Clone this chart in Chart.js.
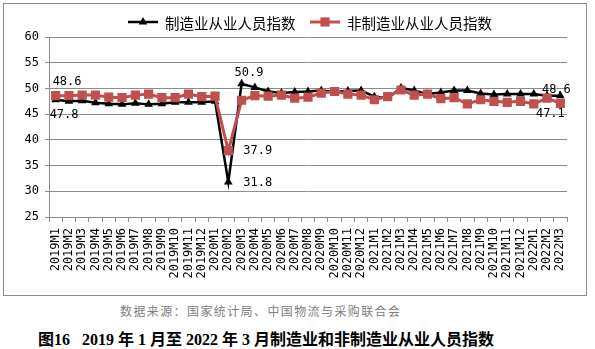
<!DOCTYPE html>
<html>
<head>
<meta charset="utf-8">
<script src="https://cdn.jsdelivr.net/npm/chart.js@4/dist/chart.umd.min.js"></script>
<style>
  body { margin: 0; background: #fff; width: 595px; height: 349px; position: relative; overflow: hidden; }
  .frame { position: absolute; left: 3px; top: 3px; width: 582px; height: 291px; border: 1px solid #8c8c8c; }
  .source { position: absolute; left: 120px; top: 302px; font: 12px "Noto Sans CJK SC"; color: #808080; letter-spacing: 1.4px; white-space: nowrap; }
  .title { position: absolute; left: 38px; top: 326px; font: bold 16px "Liberation Serif", "Noto Sans CJK SC"; color: #000; white-space: nowrap; }
</style>
</head>
<body>
<div class="frame"><canvas id="employment"></canvas></div>
<div class="source">数据来源：国家统计局、中国物流与采购联合会</div>
<div class="title">图16&nbsp;&nbsp;&nbsp;2019 年 1 月至 2022 年 3 月制造业和非制造业从业人员指数</div>
<script>
const months = [
  '2019M1', '2019M2', '2019M3', '2019M4', '2019M5', '2019M6', '2019M7', '2019M8', '2019M9', '2019M10', '2019M11', '2019M12',
  '2020M1', '2020M2', '2020M3', '2020M4', '2020M5', '2020M6', '2020M7', '2020M8', '2020M9', '2020M10', '2020M11', '2020M12',
  '2021M1', '2021M2', '2021M3', '2021M4', '2021M5', '2021M6', '2021M7', '2021M8', '2021M9', '2021M10', '2021M11', '2021M12',
  '2022M1', '2022M2', '2022M3'
];

const manufacturing = [
  47.8, 47.5, 47.6, 47.2, 47.0, 46.9, 47.1, 46.9, 47.0, 47.3, 47.3, 47.3,
  47.5, 31.8, 50.9, 50.2, 49.4, 49.1, 49.3, 49.4, 49.6, 49.3, 49.5, 49.6,
  48.4, 48.1, 50.1, 49.6, 48.9, 49.2, 49.6, 49.6, 49.0, 48.8, 48.9, 48.9,
  48.9, 48.6, 48.6
];

const nonManufacturing = [
  48.6, 48.6, 48.7, 48.7, 48.3, 48.2, 48.7, 48.9, 48.2, 48.2, 48.9, 48.4,
  48.5, 37.9, 47.7, 48.6, 48.5, 48.7, 48.1, 48.3, 49.1, 49.4, 48.9, 48.7,
  47.8, 48.4, 49.7, 48.7, 48.9, 48.0, 48.2, 47.0, 47.8, 47.5, 47.3, 47.5,
  47.0, 48.1, 47.1
];

const yTicks = [25, 30, 35, 40, 45, 50, 55, 60];

const seriesNames = ['制造业从业人员指数', '非制造业从业人员指数'];

const RED = '#c0504d';
const GRID = '#8c8c8c';
const monoFont = { family: 'DejaVu Sans Mono', size: 12 };

// which points get a value printed next to them, and where
const valueLabels = [
  { ds: 1, i: 0, dx: -3, dy: -14, align: 'left' },
  { ds: 0, i: 0, dx: -6, dy: 15, align: 'left' },
  { ds: 0, i: 14, dx: -7, dy: -11, align: 'left' },
  { ds: 1, i: 13, dx: 15, dy: 0, align: 'left' },
  { ds: 0, i: 13, dx: 15, dy: 1, align: 'left' },
  { ds: 0, i: 38, dx: -4, dy: -6, align: 'center' },
  { ds: 1, i: 38, dx: -10, dy: 11, align: 'center' }
];

const pointLabels = {
  id: 'pointLabels',
  afterDatasetsDraw(chart) {
    const ctx = chart.ctx;
    ctx.save();
    ctx.font = '12px "DejaVu Sans Mono"';
    ctx.fillStyle = '#000';
    ctx.textBaseline = 'middle';
    valueLabels.forEach(l => {
      const pt = chart.getDatasetMeta(l.ds).data[l.i];
      const v = chart.data.datasets[l.ds].data[l.i];
      ctx.textAlign = l.align;
      ctx.fillText(v.toFixed(1), pt.x + l.dx, pt.y + l.dy);
    });
    ctx.restore();
  }
};

// line + marker legend across the top
const lineLegend = {
  id: 'lineLegend',
  afterDraw(chart) {
    const ctx = chart.ctx;
    const items = [{ ds: 0, x: 124 }, { ds: 1, x: 306 }];
    const y = 18;
    ctx.save();
    items.forEach(item => {
      const ds = chart.data.datasets[item.ds];
      ctx.strokeStyle = ds.borderColor;
      ctx.lineWidth = ds.borderWidth;
      ctx.beginPath();
      ctx.moveTo(item.x, y);
      ctx.lineTo(item.x + 30, y);
      ctx.stroke();
      ctx.fillStyle = ds.pointBackgroundColor;
      const cx = item.x + 15;
      if (ds.pointStyle === 'triangle') {
        const r = ds.pointRadius;
        ctx.beginPath();
        ctx.moveTo(cx, y - r);
        ctx.lineTo(cx + r * 0.866, y + r / 2);
        ctx.lineTo(cx - r * 0.866, y + r / 2);
        ctx.closePath();
        ctx.fill();
      } else {
        const s = ds.pointRadius * Math.SQRT1_2;
        ctx.fillRect(cx - s, y - s, s * 2, s * 2);
      }
      ctx.fillStyle = '#000';
      ctx.font = '14.5px "Noto Sans CJK SC"';
      ctx.textAlign = 'left';
      ctx.textBaseline = 'middle';
      ctx.fillText(ds.label, item.x + 37, y + 1);
    });
    ctx.restore();
  }
};

new Chart(document.getElementById('employment'), {
  type: 'line',
  data: {
    labels: months,
    datasets: [{
      label: seriesNames[0],
      data: manufacturing,
      borderColor: '#000',
      backgroundColor: '#000',
      pointBackgroundColor: '#000',
      pointBorderColor: '#000',
      borderWidth: 2.5,
      pointStyle: 'triangle',
      pointRadius: 5,
      pointBorderWidth: 0,
      tension: 0,
      order: 1
    }, {
      label: seriesNames[1],
      data: nonManufacturing,
      borderColor: RED,
      backgroundColor: RED,
      pointBackgroundColor: RED,
      pointBorderColor: RED,
      borderWidth: 3,
      pointStyle: 'rect',
      pointRadius: 6.5,
      pointBorderWidth: 0,
      tension: 0,
      order: 0
    }]
  },
  options: {
    responsive: true,
    maintainAspectRatio: false,
    animation: false,
    layout: { padding: { top: 33, right: 19, left: 0, bottom: 0 } },
    plugins: {
      legend: { display: false },
      tooltip: { enabled: false }
    },
    scales: {
      x: {
        offset: true,
        grid: { offset: true, drawOnChartArea: false, tickLength: 5, color: GRID },
        border: { color: GRID },
        ticks: { autoSkip: false, maxRotation: 90, minRotation: 90, padding: 6, font: monoFont, color: '#000' },
        afterFit: s => { s.height = 78; }
      },
      y: {
        min: 25,
        max: 60,
        afterBuildTicks: s => { s.ticks = yTicks.map(v => ({ value: v })); },
        grid: { color: GRID, tickLength: 4 },
        border: { color: GRID },
        ticks: { padding: 6, font: monoFont, color: '#000' },
        afterFit: s => { s.width = 45; }
      }
    }
  },
  plugins: [pointLabels, lineLegend]
});
</script>
</body>
</html>
